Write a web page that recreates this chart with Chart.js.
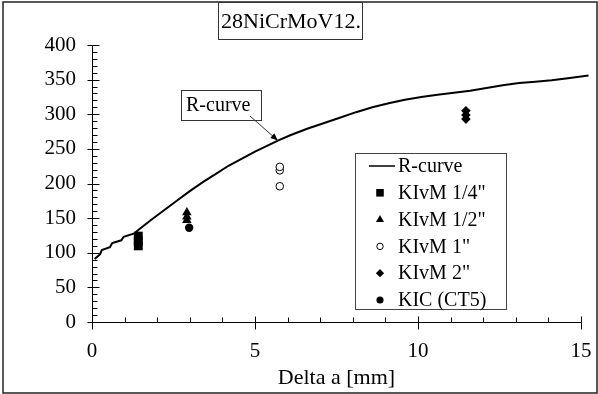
<!DOCTYPE html>
<html>
<head>
<meta charset="utf-8">
<script src="https://cdn.jsdelivr.net/npm/chart.js"></script>
<style>
html,body{margin:0;padding:0;background:#fff;}
#wrap{width:598px;height:394px;}
</style>
</head>
<body>
<div id="wrap"><canvas id="chart" width="598" height="394"></canvas></div>
<script>
const FONT = "'Liberation Serif','Times New Roman',serif";

// R-curve
const rCurveX = [0.08,0.25,0.30,0.55,0.62,0.90,0.97,1.30,1.45,1.80,2.20,2.60,3.00,3.40,3.80,4.20,4.60,5.00,5.40,5.70,6.10,6.60,7.10,7.60,8.10,8.60,9.10,9.60,10.10,10.60,11.10,11.60,12.10,12.60,13.10,13.60,14.10,14.60,15.23];
const rCurveY = [91,98,104,108,114,118,123,128,134,147,161,175,189,202,214,226,236,246,255,262,270,279,287,295,303,310,316,321,325,328,331,334,338,342,345,347,349,352,356];

// specimens
const q14X = [1.42,1.42,1.42];
const q14Y = [110,117,124];
const q12X = [2.91,2.91,2.91];
const q12Y = [147,152,158];
const q1X = [5.76,5.76,5.76];
const q1Y = [196,219,224];
const q2X = [11.47,11.47,11.47];
const q2Y = [293,299,305];
const kicX = [2.98];
const kicY = [136];

const seriesNames = ["R-curve","KIvM 1/4\"","KIvM 1/2\"","KIvM 1\"","KIvM 2\"","KIC (CT5)"];
const xTicks = [0,5,10,15];
const yTicks = [0,50,100,150,200,250,300,350,400];
const titleText = "28NiCrMoV12.";
const xTitle = "Delta a [mm]";
const noteText = "R-curve";
const noteAt = [5.7, 262];

function pts(xs, ys){
  return xs.map((v,i)=>({x:v, y:ys[i]}));
}

// ticks, frame, title box, note and legend
const decor = {
  id: "decor",
  afterDraw(chart){
    const ctx = chart.ctx;
    const x = chart.scales.x, y = chart.scales.y;
    ctx.save();

    // outer frame
    ctx.strokeStyle = "#222";
    ctx.lineWidth = 1.5;
    ctx.strokeRect(3, 2, 594, 391);

    // axes
    ctx.strokeStyle = "#000";
    ctx.lineWidth = 1;
    const ax = Math.round(x.getPixelForValue(0)) + 0.5;
    const ay = Math.round(y.getPixelForValue(0)) + 0.5;
    ctx.beginPath();
    ctx.moveTo(ax, y.getPixelForValue(400));
    ctx.lineTo(ax, ay);
    ctx.lineTo(x.getPixelForValue(15), ay);
    for(let v=0; v<=400; v+=10){
      const py = Math.round(y.getPixelForValue(v)) + 0.5;
      if(v % 50 === 0){ ctx.moveTo(ax-5, py); ctx.lineTo(ax+7, py); }
      else { ctx.moveTo(ax, py); ctx.lineTo(ax+5, py); }
    }
    for(let v=0; v<=15; v++){
      const px = Math.round(x.getPixelForValue(v)) + 0.5;
      if(v % 5 === 0){ ctx.moveTo(px, ay-6); ctx.lineTo(px, ay+7); }
      else { ctx.moveTo(px, ay-5); ctx.lineTo(px, ay); }
    }
    ctx.stroke();

    ctx.fillStyle = "#000";
    ctx.textBaseline = "middle";

    // title box
    ctx.font = "22px " + FONT;
    ctx.fillStyle = "#fff";
    ctx.fillRect(218.5, 2.5, 144, 37);
    ctx.strokeStyle = "#333";
    ctx.strokeRect(218.5, 2.5, 144, 37);
    ctx.fillStyle = "#000";
    ctx.textAlign = "left";
    ctx.fillText(titleText, 221, 22);

    // note with arrow
    ctx.font = "20px " + FONT;
    ctx.strokeRect(181.5, 90.5, 80, 30);
    ctx.fillText(noteText, 186, 106);
    const tx = x.getPixelForValue(noteAt[0]), ty = y.getPixelForValue(noteAt[1]);
    const sx = 250, sy = 116;
    ctx.beginPath();
    ctx.moveTo(sx, sy);
    ctx.lineTo(tx, ty);
    ctx.stroke();
    const ang = Math.atan2(ty-sy, tx-sx);
    ctx.beginPath();
    ctx.moveTo(tx, ty);
    ctx.lineTo(tx - 8*Math.cos(ang-0.4), ty - 8*Math.sin(ang-0.4));
    ctx.lineTo(tx - 8*Math.cos(ang+0.4), ty - 8*Math.sin(ang+0.4));
    ctx.closePath();
    ctx.fill();

    // legend
    const lx = 355.5, ly = 153.5, lw = 151, lh = 156;
    ctx.fillStyle = "#fff";
    ctx.fillRect(lx, ly, lw, lh);
    ctx.strokeStyle = "#444";
    ctx.strokeRect(lx, ly, lw, lh);
    chart.data.datasets.forEach((ds, i) => {
      const cy = 166 + i*26.8;
      const mx = 380;
      ctx.strokeStyle = "#000";
      ctx.fillStyle = ds.backgroundColor;
      if(i === 0){
        ctx.lineWidth = 1.5;
        ctx.beginPath();
        ctx.moveTo(369, cy); ctx.lineTo(395, cy);
        ctx.stroke();
      } else {
        ctx.lineWidth = ds.borderWidth || 1;
        Chart.helpers.drawPoint(ctx, {pointStyle: ds.pointStyle, radius: ds.pointRadius*0.85, rotation: 0, borderWidth: ds.borderWidth}, mx, cy);
      }
      ctx.fillStyle = "#000";
      ctx.font = "20px " + FONT;
      ctx.fillText(ds.label, 398, cy + 1);
    });
    ctx.restore();
  }
};

new Chart(document.getElementById("chart"), {
  type: "scatter",
  data: {
    datasets: [
      {label: seriesNames[0], data: pts(rCurveX, rCurveY), showLine: true, borderColor: "#000", borderWidth: 2, pointRadius: 0, tension: 0, clip: false, backgroundColor: "#000"},
      {label: seriesNames[1], data: pts(q14X, q14Y), pointStyle: "rect", pointRadius: 6.3, backgroundColor: "#000", borderColor: "#000", borderWidth: 0},
      {label: seriesNames[2], data: pts(q12X, q12Y), pointStyle: "triangle", pointRadius: 5.5, backgroundColor: "#000", borderColor: "#000", borderWidth: 0},
      {label: seriesNames[3], data: pts(q1X, q1Y), pointStyle: "circle", pointRadius: 3.8, backgroundColor: "#fff", borderColor: "#000", borderWidth: 1},
      {label: seriesNames[4], data: pts(q2X, q2Y), pointStyle: "rectRot", pointRadius: 4.8, backgroundColor: "#000", borderColor: "#000", borderWidth: 0},
      {label: seriesNames[5], data: pts(kicX, kicY), pointStyle: "circle", pointRadius: 4.2, backgroundColor: "#000", borderColor: "#000", borderWidth: 0}
    ]
  },
  options: {
    responsive: false,
    animation: false,
    devicePixelRatio: 1,
    layout: {padding: {top: 45, right: 17, left: 0, bottom: 0}},
    plugins: {legend: {display: false}, tooltip: {enabled: false}},
    scales: {
      x: {
        type: "linear", min: 0, max: 15,
        afterBuildTicks: s => { s.ticks = xTicks.map(v => ({value: v})); },
        afterFit: s => { s.height = 72; s.paddingLeft = 0; s.paddingRight = 0; },
        grid: {display: false, drawTicks: false},
        border: {display: false},
        ticks: {color: "#000", font: {family: FONT, size: 21}, padding: 17, maxRotation: 0},
        title: {display: true, text: xTitle, color: "#000", font: {family: FONT, size: 22}, padding: {top: 0, bottom: 3}}
      },
      y: {
        type: "linear", min: 0, max: 400,
        afterBuildTicks: s => { s.ticks = yTicks.map(v => ({value: v})); },
        afterFit: s => { s.width = 92; s.paddingTop = 0; s.paddingBottom = 0; },
        grid: {display: false, drawTicks: false},
        border: {display: false},
        ticks: {color: "#000", font: {family: FONT, size: 21}, padding: 16}
      }
    }
  },
  plugins: [decor]
});
</script>
</body>
</html>
